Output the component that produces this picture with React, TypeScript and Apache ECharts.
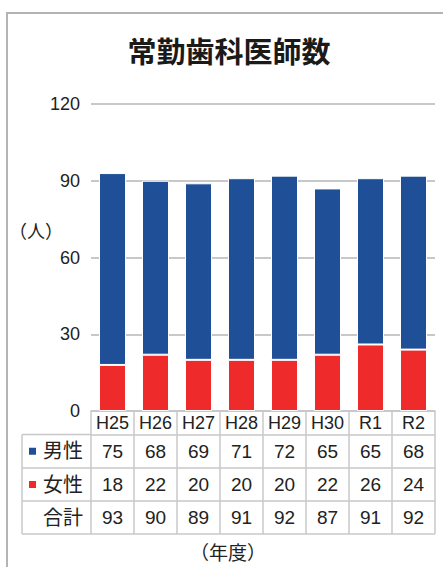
import React, { useEffect, useRef } from "react";
import * as echarts from "echarts";

const categories = ["H25", "H26", "H27", "H28", "H29", "H30", "R1", "R2"];
const male = [75, 68, 69, 71, 72, 65, 65, 68];
const female = [18, 22, 20, 20, 20, 22, 26, 24];
const total = [93, 90, 89, 91, 92, 87, 91, 92];
const rowLabels = ["男性", "女性", "合計"];

const FONT = "'Liberation Sans', 'Noto Sans CJK JP', sans-serif";
const BLUE = "#1f4f97";
const RED = "#ee2a2a";
const LINE = "#c8c8c8";
const TXT = "#222";

const W = 443;
const H = 567;
const GL = 91;
const GR = 435;
const GT = 104;
const GB = 411;
const rowY = [411, 434.5, 468, 501, 534];
const labelLeft = 22;

export default function App() {
  const ref = useRef<HTMLDivElement>(null);
  useEffect(() => {
    if (!ref.current) return;
    const chart = echarts.init(ref.current, null, { renderer: "svg" });
    const tableAxis = (values: number[] | string[], offset: number, tick: number, margin: number, fs: number) => ({
      type: "category",
      gridIndex: 0,
      position: "bottom",
      offset,
      data: categories,
      boundaryGap: true,
      axisLine: { show: true, lineStyle: { color: LINE, width: 1.5 } },
      axisTick: { show: true, length: tick, interval: 0, lineStyle: { color: LINE, width: 1.5 } },
      axisLabel: {
        interval: 0,
        margin,
        fontSize: fs,
        color: TXT,
        fontFamily: FONT,
        formatter: (_v: string, i: number) => String(values[i]),
      },
      splitLine: { show: false },
    });
    const graphics: any[] = [
      {
        type: "rect",
        shape: { x: 7, y: 13, width: 600, height: 700 },
        style: { fill: "none", stroke: "#b4b4b4", lineWidth: 2 },
        silent: true,
      },
      {
        type: "text",
        x: 229,
        y: 53,
        style: {
          text: "常勤歯科医師数",
          font: `bold 29px ${FONT}`,
          fill: "#1a1a1a",
          align: "center",
          verticalAlign: "middle",
        },
      },
      {
        type: "text",
        x: 36,
        y: 232,
        style: { text: "（人）", font: `18px ${FONT}`, fill: TXT, align: "center", verticalAlign: "middle" },
      },
      {
        type: "text",
        x: 228,
        y: 553,
        style: { text: "（年度）", font: `19px ${FONT}`, fill: TXT, align: "center", verticalAlign: "middle" },
      },
      {
        type: "line",
        shape: { x1: labelLeft, y1: rowY[1], x2: labelLeft, y2: rowY[4] },
        style: { stroke: LINE, lineWidth: 1.5 },
      },
      {
        type: "line",
        shape: { x1: labelLeft, y1: rowY[4], x2: GR, y2: rowY[4] },
        style: { stroke: LINE, lineWidth: 1.5 },
      },
    ];
    for (let r = 1; r <= 3; r++) {
      graphics.push({
        type: "line",
        shape: { x1: labelLeft, y1: rowY[r], x2: GL, y2: rowY[r] },
        style: { stroke: LINE, lineWidth: 1.5 },
      });
    }
    const swatches = [BLUE, RED, null];
    rowLabels.forEach((lab, i) => {
      const cy = (rowY[i + 1] + rowY[i + 2]) / 2;
      graphics.push({
        type: "text",
        x: 83,
        y: cy,
        style: { text: lab, font: `20px ${FONT}`, fill: TXT, align: "right", verticalAlign: "middle" },
      });
      const c = swatches[i];
      if (c) {
        graphics.push({
          type: "rect",
          shape: { x: 29, y: cy - 3.5, width: 7, height: 7 },
          style: { fill: c },
        });
      }
    });

    chart.setOption({
      animation: false,
      grid: { left: GL, right: W - GR, top: GT, bottom: H - GB, containLabel: false },
      xAxis: [
        tableAxis(categories, 0, rowY[1] - rowY[0], 3, 18),
        tableAxis(male, rowY[1] - rowY[0], rowY[2] - rowY[1], 7, 19),
        tableAxis(female, rowY[2] - rowY[0], rowY[3] - rowY[2], 7, 19),
        tableAxis(total, rowY[3] - rowY[0], rowY[4] - rowY[3], 7, 19),
      ],
      yAxis: {
        type: "value",
        min: 0,
        max: 120,
        interval: 30,
        axisLine: { show: false },
        axisTick: { show: false },
        axisLabel: { fontSize: 18, color: TXT, fontFamily: FONT, margin: 11 },
        splitLine: { show: true, lineStyle: { color: LINE, width: 2 } },
      },
      series: [
        {
          name: "女性",
          type: "bar",
          stack: "total",
          xAxisIndex: 0,
          data: female,
          barWidth: 27,
          itemStyle: { color: RED, borderColor: "#fff", borderWidth: 1 },
        },
        {
          name: "男性",
          type: "bar",
          stack: "total",
          xAxisIndex: 0,
          data: male,
          barWidth: 27,
          itemStyle: { color: BLUE, borderColor: "#fff", borderWidth: 1 },
        },
      ],
      graphic: graphics,
    });
    return () => chart.dispose();
  }, []);
  return (
    <div style={{ position: "absolute", left: 0, top: 0, width: W, height: H, background: "#fff" }}>
      <div ref={ref} style={{ width: W, height: H }} />
    </div>
  );
}
